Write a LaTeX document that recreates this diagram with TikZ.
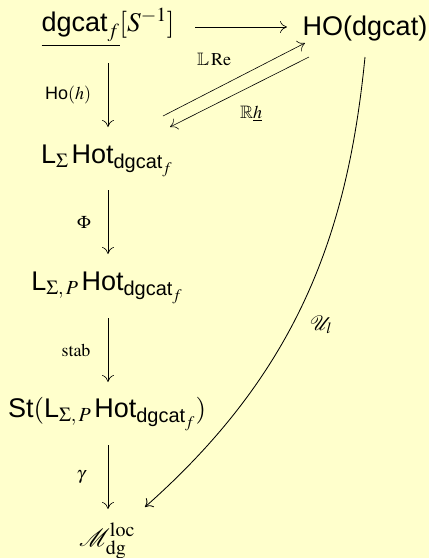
\documentclass[tikz,border=0pt]{standalone}
\usepackage{mathptmx}
\usepackage{amsmath,amssymb,mathrsfs}
\usepackage[no-math]{fontspec}
\setmainfont{Liberation Serif}
\newfontfamily\hv{Liberation Sans}
\newcommand{\hs}[1]{\text{\hv #1}}
\usetikzlibrary{arrows.meta}
\definecolor{bgyellow}{HTML}{FFFFCC}
\begin{document}
\begin{tikzpicture}[x=1pt,y=-1pt,
  obj/.style={inner sep=0pt, anchor=base, font=\fontsize{27}{30}\selectfont},
  lab/.style={inner sep=0pt, anchor=base, font=\fontsize{18}{20}\selectfont},
  arr/.style={-{Computer Modern Rightarrow[length=7pt,width=12pt]}, line width=0.6pt}]
\fill[bgyellow] (0,0) rectangle (429,558);
\useasboundingbox (0,0) rectangle (429,558);
% objects
\node[obj] (A) at (108,31) {$\underline{\hs{dgcat}_f}[S^{-1}]$};
\node[obj] (B) at (365,35) {\hv HO(dgcat)};
\node[obj] (C) at (107,163) {$\hs{L}_\Sigma\,\hs{Hot}_{\hs{dgcat}_f}$};
\node[obj] (D) at (107,290) {$\hs{L}_{\Sigma,\,P}\,\hs{Hot}_{\hs{dgcat}_f}$};
\node[obj] (E) at (107,417) {$\hs{St}(\hs{L}_{\Sigma,\,P}\,\hs{Hot}_{\hs{dgcat}_f})$};
\node[obj] (F) at (107,546) {$\mathscr{M}^{\mathrm{loc}}_{\mathrm{dg}}$};
% arrow ends
\coordinate (hA) at (195,27);  \coordinate (hB) at (287,27);
\coordinate (vA) at (108,63);  \coordinate (vC1) at (108,127);
\coordinate (vC) at (108,190); \coordinate (vD1) at (108,254);
\coordinate (vD) at (108,318); \coordinate (vE1) at (108,382);
\coordinate (vE) at (108,445); \coordinate (vF1) at (108,509);
\coordinate (dC) at (163,116); \coordinate (dB1) at (305,43);
\coordinate (dB) at (309,57);  \coordinate (dC1) at (170,127);
\coordinate (uB) at (365,57);  \coordinate (uF1) at (145,507);
% connectors
\draw[arr] (hA) -- (hB);
\draw[arr] (vA) -- (vC1);
\draw[arr] (vC) -- (vD1);
\draw[arr] (vD) -- (vE1);
\draw[arr] (vE) -- (vF1);
\draw[arr] (dC) -- (dB1);
\draw[arr] (dB) -- (dC1);
\draw[arr, line width=0.85pt] (uB) .. controls (348,230) and (300,370) .. (uF1);
% labels
\node[lab] (lHo) at (68,99) {$\hs{Ho}(h)$};
\node[lab] (lPhi) at (84,228) {$\Phi$};
\node[lab] (lstab) at (76,356) {$\mathrm{stab}$};
\node[lab] (lgam) at (81,479) {$\gamma$};
\node[lab] (lRe) at (214,65) {$\mathbb{L}\,\mathrm{Re}$};
\node[lab] (lRh) at (251,118) {$\mathbb{R}\underline{h}$};
\node[lab, font=\fontsize{21}{23}\selectfont] (lU) at (321,330) {$\mathscr{U}_l$};
\end{tikzpicture}
\end{document}
